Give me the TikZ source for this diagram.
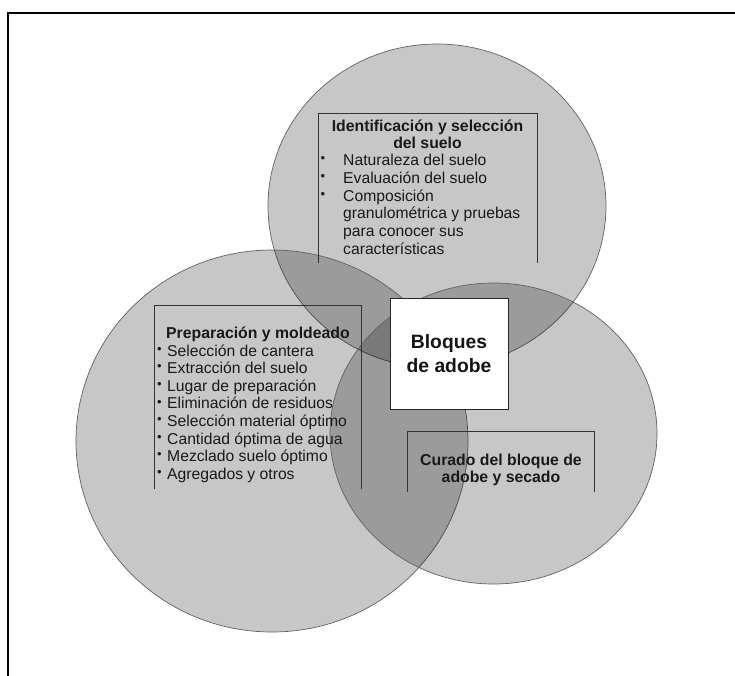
\documentclass[tikz,border=0pt]{standalone}
\usepackage{fontspec}
\setmainfont{Liberation Sans}
\begin{document}
\begin{tikzpicture}[x=1pt,y=-1pt,
  venn/.style={fill=black, fill opacity=0.22, draw=black!62, line width=0.7pt},
  bracket/.style={draw=black!80, line width=0.8pt},
  body/.style={inner sep=0pt, anchor=base west, font=\fontsize{15.7}{17.8}\selectfont, text=black!90},
  ttl/.style={inner sep=0pt, anchor=base, font=\fontsize{15.8}{17.8}\selectfont\bfseries, text=black!90},
  bul/.style={inner sep=0pt, anchor=base, font=\fontsize{13}{14}\selectfont, text=black!90},
]
\useasboundingbox (0,0) rectangle (735,675);
\begin{scope}
  \clip (0,0) rectangle (735,675);
  \draw[line width=2pt] (8,700) -- (8,13) -- (760,13);
\end{scope}

% circles
\path[venn] (437,206) ellipse [x radius=169pt, y radius=162pt];
\path[venn] (272,441) ellipse [x radius=196pt, y radius=191pt];
\path[venn] (493.5,433.5) ellipse [x radius=163.5pt, y radius=150.5pt];

% brackets
\draw[bracket] (318,263) -- (318,113) -- (537,113) -- (537,263);
\draw[bracket] (154,489) -- (154,305) -- (361,305) -- (361,489);
\draw[bracket] (407,492) -- (407,431) -- (594,431) -- (594,492);

% top group
\node[ttl] (t1) at (427.5,131) {Identificación y selección};
\node[ttl] (t2) at (427.5,148) {del suelo};
\node[bul] (tb1) at (323,165.5) {\raisebox{2.8pt}{•}};
\node[body] (ti1) at (343,165.5) {Naturaleza del suelo};
\node[bul] (tb2) at (323,183.3) {\raisebox{2.8pt}{•}};
\node[body] (ti2) at (343,183.3) {Evaluación del suelo};
\node[bul] (tb3) at (323,201.1) {\raisebox{2.8pt}{•}};
\node[body] (ti3) at (343,201.1) {Composición};
\node[body] (ti4) at (343,218.9) {granulométrica y pruebas};
\node[body] (ti5) at (343,236.7) {para conocer sus};
\node[body] (ti6) at (343,254.5) {características};

% left group
\node[ttl, anchor=base west] (l0) at (166,338) {Preparación y moldeado};
\foreach \txt [count=\i] in {Selección de cantera, Extracción del suelo, Lugar de preparación, Eliminación de residuos, Selección material óptimo, Cantidad óptima de agua, Mezclado suelo óptimo, Agregados y otros}{
  \node[bul] (lb\i) at (159.5,{356+(\i-1)*17.6}) {\raisebox{2.8pt}{•}};
  \node[body] (li\i) at (167,{356+(\i-1)*17.6}) {\txt};
}

% right group
\node[ttl] (r1) at (501,465.7) {Curado del bloque de};
\node[ttl] (r2) at (501,482.7) {adobe y secado};

% centre
\node[draw=black!85, line width=1pt, fill=white, minimum width=118pt, minimum height=111pt, inner sep=0pt] (core) at (449,353.5) {};
\node[inner sep=0pt, anchor=base, font=\fontsize{19.3}{24}\selectfont\bfseries, text=black!92] (c1) at (449,348) {Bloques};
\node[inner sep=0pt, anchor=base, font=\fontsize{19.3}{24}\selectfont\bfseries, text=black!92] (c2) at (449,372) {de adobe};
\end{tikzpicture}
\end{document}
